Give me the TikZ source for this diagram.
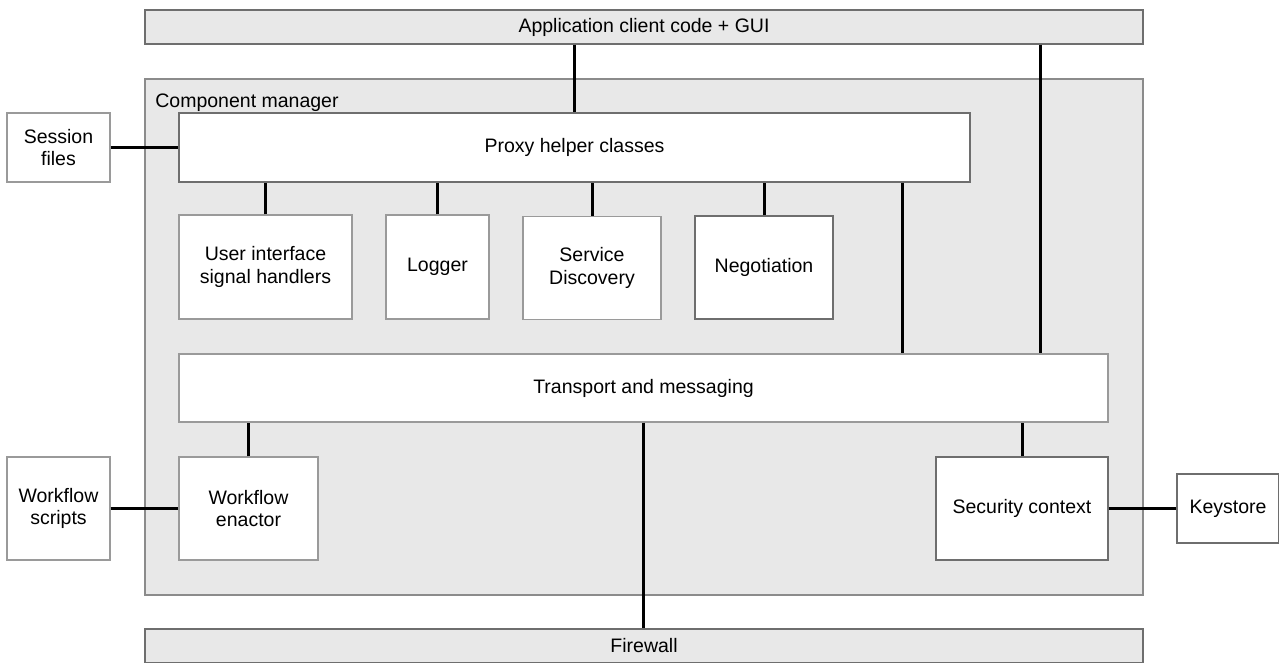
\documentclass[tikz,border=0pt]{standalone}
\usepackage{fontspec}
\setmainfont{Liberation Sans}
\definecolor{panel}{HTML}{E8E8E8}
\definecolor{edge}{HTML}{9A9A9A}
\definecolor{darkedge}{HTML}{6E6E6E}
\begin{document}
\begin{tikzpicture}
[mod/.style 2 args={draw=edge,fill=white,line width=0.6pt,align=center,inner sep=1pt,minimum width=#1,minimum height=#2}
,bar/.style={mod={19.96cm}{0.68cm},fill=panel,draw=darkedge}
,ln/.style={draw=black,line width=1.7pt}
,font=\fontsize{11.1}{12.6}\selectfont]
\useasboundingbox (0,0) rectangle (25.58,-13.24);
% outer layers
\node[bar] (app) at (12.88,-0.54) {Application client code + GUI};
\node[mod={19.96cm}{10.32cm},fill=panel,draw=darkedge!80] (cm) at (12.88,-6.74) {};
\node[anchor=base west,inner sep=0pt] (cmlabel) at (3.10,-2.14) {Component manager};
\node[bar] (fw) at (12.88,-12.92) {Firewall};
% component manager parts
\node[mod={15.82cm}{1.38cm},draw=darkedge] (proxy) at (11.49,-2.95) {Proxy helper classes};
\node[mod={3.46cm}{2.08cm}] (ui) at (5.31,-5.34) {User interface\\signal handlers};
\node[mod={2.06cm}{2.08cm}] (log) at (8.75,-5.34) {Logger};
\node[mod={2.76cm}{2.06cm}] (disc) at (11.84,-5.36) {Service\\Discovery};
\node[mod={2.76cm}{2.06cm},draw=darkedge] (neg) at (15.28,-5.35) {Negotiation};
\node[mod={18.58cm}{1.36cm}] (trans) at (12.87,-7.76) {Transport and messaging};
\node[mod={2.78cm}{2.06cm}] (wfe) at (4.97,-10.17) {Workflow\\enactor};
\node[mod={3.44cm}{2.06cm},draw=darkedge] (sec) at (20.44,-10.17) {Security context};
% outside
\node[mod={2.06cm}{1.38cm}] (sess) at (1.17,-2.95) {Session\\files};
\node[mod={2.06cm}{2.06cm}] (wfs) at (1.17,-10.17) {Workflow\\scripts};
\node[mod={2.04cm}{1.38cm},draw=darkedge] (key) at (24.56,-10.17) {Keystore};
% links
\draw[ln] (app.south -| proxy.north) -- (proxy.north);
\draw[ln] ([xshift=-1.36cm]trans.north east |- app.south) -- ([xshift=-1.36cm]trans.north east);
\draw[ln] ([xshift=-1.36cm]proxy.south east) -- ([xshift=-1.36cm]proxy.south east |- trans.north);
\draw[ln] (sess) -- (proxy);
\draw[ln] (ui.north) -- (ui.north |- proxy.south);
\draw[ln] (log.north) -- (log.north |- proxy.south);
\draw[ln] (disc.north) -- (disc.north |- proxy.south);
\draw[ln] (neg.north) -- (neg.north |- proxy.south);
\draw[ln] (wfe.north) -- (wfe.north |- trans.south);
\draw[ln] (sec.north) -- (sec.north |- trans.south);
\draw[ln] (trans.south) -- (trans.south |- fw.north);
\draw[ln] (wfs) -- (wfe);
\draw[ln] (sec) -- (key);
\end{tikzpicture}
\end{document}
